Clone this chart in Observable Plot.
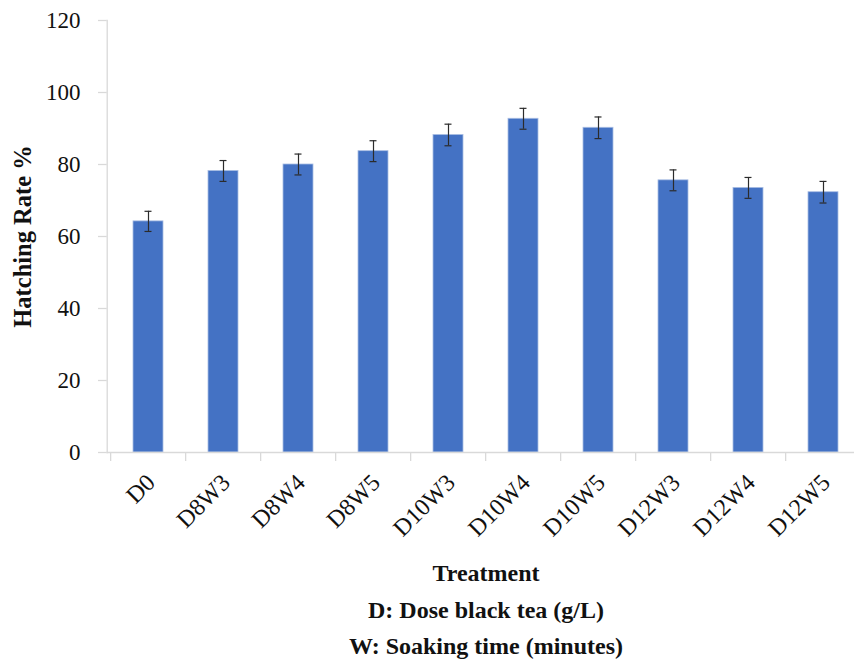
<!DOCTYPE html>
<html>
<head>
<meta charset="utf-8">
<script src="https://cdn.jsdelivr.net/npm/d3@7"></script>
<script src="https://cdn.jsdelivr.net/npm/@observablehq/plot@0.6"></script>
<style>
  html, body { margin: 0; padding: 0; background: #fff; }
  #chart { position: relative; width: 854px; height: 662px; overflow: hidden; background: #fff; }
  #chart svg { display: block; }
  .notes {
    width: 972px;
    text-align: center;
    font-family: "Liberation Serif", "Times New Roman", serif;
    font-weight: bold;
    font-size: 24px;
    line-height: 36.5px;
    color: #111;
  }
</style>
</head>
<body>
<div id="chart"></div>
<script>
// Treatments: D = dose of black tea (g/L), W = soaking time (minutes)
const treatments = ["D0", "D8W3", "D8W4", "D8W5", "D10W3", "D10W4", "D10W5", "D12W3", "D12W4", "D12W5"];
// Mean hatching rate (%)
const hatchingRate = [64.2, 78.2, 80.0, 83.7, 88.2, 92.7, 90.2, 75.6, 73.5, 72.3];
// Error (±) for each mean
const errors = [2.8, 2.9, 2.9, 2.9, 3.0, 2.9, 3.0, 2.9, 2.9, 3.0];
const yTicks = [0, 20, 40, 60, 80, 100, 120];
const notes = ["Treatment", "D: Dose black tea (g/L)", "W: Soaking time (minutes)"];

const rows = treatments.map((t, i) => ({treatment: t, rate: hatchingRate[i], err: errors[i]}));

const left = 106.7, right = 863.7;
const step = (right - left) / treatments.length;
const serif = "'Liberation Serif', 'Times New Roman', serif";
const axisGray = "#d9d9d9";

const chart = Plot.plot({
  width: 854,
  height: 555,
  marginTop: 20,
  marginBottom: 103,
  marginLeft: left,
  marginRight: 0,
  style: {fontFamily: serif, fontSize: "23px", color: "#111", background: "#fff", overflow: "visible"},
  x: {domain: treatments, range: [left, right], paddingInner: 0.6, paddingOuter: 0.3, label: null},
  y: {domain: [0, 120], range: [452, 20], label: null},
  marks: [
    // vertical axis line
    Plot.frame({anchor: "left", stroke: axisGray, strokeWidth: 1.3}),
    Plot.axisY({ticks: yTicks, tickSize: 8.7, tickPadding: 18, stroke: axisGray, strokeWidth: 1.3, fontSize: 23, fontFamily: serif, label: null}),
    // category boundary ticks
    Plot.axisX({tickSize: 9, text: null, stroke: axisGray, strokeWidth: 1.3, dx: -step / 2, label: null}),
    // rotated category labels
    Plot.axisX({tickSize: 0, tickPadding: 26, tickRotate: -45, fontSize: 24, fontFamily: serif, dx: 2.5, label: null}),
    Plot.barY(rows, {x: "treatment", y: "rate", fill: "#4472c4", stroke: "#a9bde3", strokeWidth: 0.8}),
    Plot.ruleY([0], {stroke: axisGray, strokeWidth: 1.3}),
    // error bars
    Plot.ruleX(rows, {x: "treatment", y1: d => d.rate - d.err, y2: d => d.rate + d.err, stroke: "#2b2b2b", strokeWidth: 1.2}),
    Plot.tickY(rows, {x: "treatment", y: d => d.rate + d.err, stroke: "#2b2b2b", strokeWidth: 1.2, insetLeft: 11.5, insetRight: 11.5}),
    Plot.tickY(rows, {x: "treatment", y: d => d.rate - d.err, stroke: "#2b2b2b", strokeWidth: 1.2, insetLeft: 11.5, insetRight: 11.5}),
    // y-axis title
    Plot.text(["Hatching Rate %"], {frameAnchor: "left", textAnchor: "middle", rotate: -90, dx: -84, fontSize: 24.5, fontFamily: serif, fontWeight: "bold", fill: "#111"})
  ]
});

const root = document.getElementById("chart");
root.appendChild(chart);
const block = document.createElement("div");
block.className = "notes";
notes.forEach(n => {
  const line = document.createElement("div");
  line.textContent = n;
  block.appendChild(line);
});
root.appendChild(block);
</script>
</body>
</html>
